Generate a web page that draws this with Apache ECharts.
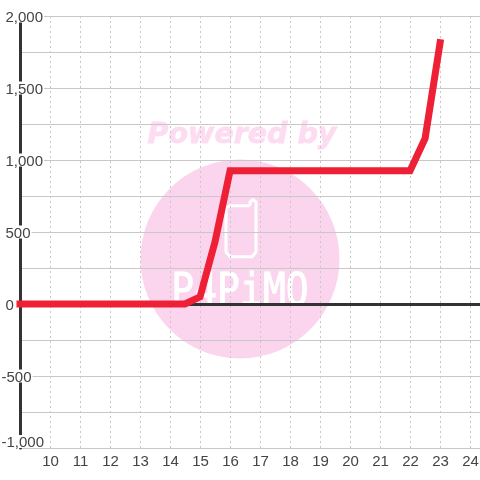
<!DOCTYPE html>
<html>
<head>
<meta charset="utf-8">
<style>html,body{margin:0;padding:0;background:#fff}#c{width:480px;height:480px}</style>
<script src="https://cdn.jsdelivr.net/npm/echarts@6/dist/echarts.min.js"></script>
</head>
<body>
<div id="c"></div>
<script>
const hours = [9, 14.5, 15, 15.5, 16, 22, 22.5, 23];
const values = [0, 0, 50, 432, 925, 925, 1150, 1815];
const xLimits = [9, 24.33];
const yLimits = [-1000, 2000];
const xLabelHidden = [9];
const watermarkTitle = 'Powered by';
const watermarkBrand = 'P4PiMO';

const font = '"Liberation Sans", Arial, sans-serif';
const chart = echarts.init(document.getElementById('c'), null, {renderer: 'canvas'});
const fmt = v => {
  const s = Math.abs(v).toLocaleString('en-US');
  return v < 0 ? '{n|-' + s + '}' : '{p|' + s + '}';
};
chart.setOption({
  animation: false,
  backgroundColor: '#fff',
  grid: {left: 20, right: 0, top: 16, bottom: 32, containLabel: false, outerBoundsMode: 'none'},
  graphic: {elements: [
    {type: 'circle', z: -10, silent: true, shape: {cx: 240, cy: 259, r: 99.5}, style: {fill: '#fbd5ee'}},
    {type: 'text', z: -10, silent: true, style: {x: 242, y: 136, text: watermarkTitle, align: 'center', verticalAlign: 'middle',
      font: 'italic bold 28.5px "DejaVu Sans"', fill: '#fddcf1', stroke: '#fddcf1', lineWidth: 0.8}},
    {type: 'polyline', z: -9, silent: true, shape: {points: [[250,205.7],[230,205.7],[226,208],[226,252],[230,256.7],[252,256.7],[256,252],[256,202],[253,199.5],[250,202],[250,205.7]]},
      style: {stroke: '#fff', fill: 'none', lineWidth: 3, lineJoin: 'round'}},
    {type: 'text', z: -9, silent: true, scaleY: 1.15, originX: 240, originY: 294,
      style: {x: 240, y: 294, text: watermarkBrand, align: 'center', verticalAlign: 'middle',
      font: '38px "DejaVu Sans Mono"', fill: '#fff', stroke: '#fff', lineWidth: 0.8}}
  ]},
  xAxis: [{
    type: 'value', min: xLimits[0], max: xLimits[1], interval: 1,
    axisLine: {show: false, onZero: false},
    axisTick: {show: false},
    axisLabel: {color: '#444', fontFamily: font, fontSize: 15, margin: 6, padding: [0, 0, 0, 1], showMinLabel: false, showMaxLabel: false,
      formatter: v => xLabelHidden.includes(v) ? '' : String(v)},
    splitLine: {show: true, showMinLine: false, showMaxLine: false, lineStyle: {color: '#c8c8c8', type: [2, 3], width: 1}}
  }, {
    type: 'value', min: xLimits[0], max: xLimits[1], interval: 1, position: 'bottom',
    axisLine: {show: true, onZero: true, lineStyle: {color: '#333', width: 3}},
    axisTick: {show: false}, axisLabel: {show: false}, splitLine: {show: false}
  }],
  yAxis: {
    type: 'value', min: yLimits[0], max: yLimits[1], interval: 500,
    axisLine: {show: true, onZero: false, lineStyle: {color: '#333', width: 3}},
    axisTick: {show: false},
    minorTick: {show: false, splitNumber: 2},
    minorSplitLine: {show: true, lineStyle: {color: '#c8c8c8', width: 1}},
    splitLine: {show: true, lineStyle: {color: '#c8c8c8', width: 1}},
    axisLabel: {
      align: 'left', margin: 18.5, color: '#444', fontFamily: font, fontSize: 15,
      backgroundColor: '#fff', verticalAlignMinLabel: 'bottom', hideOverlap: false,
      formatter: fmt,
      rich: {
        p: {color: '#444', fontFamily: font, fontSize: 15, lineHeight: 13, padding: [3, 1, 0, 4]},
        n: {color: '#444', fontFamily: font, fontSize: 15, lineHeight: 13, padding: [3, 1, 0, 0]}
      }
    }
  },
  series: [{
    type: 'line', xAxisIndex: 0, data: hours.map((h, i) => [h, values[i]]),
    showSymbol: false, symbol: 'none', clip: false, z: 5, smooth: false,
    lineStyle: {color: '#ee2036', width: 7, cap: 'square', join: 'miter'}
  }]
});
</script>
</body>
</html>
